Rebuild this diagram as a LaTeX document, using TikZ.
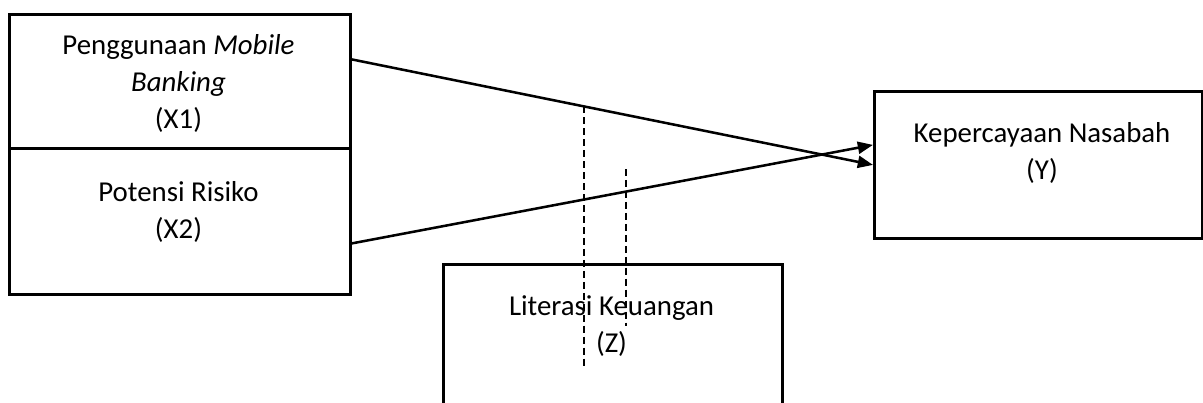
\documentclass[tikz,border=0pt]{standalone}
\usepackage{fontspec}
\setmainfont{Carlito}
\usepackage{tikz}
\usetikzlibrary{calc,arrows.meta,positioning}
\newlength\px
\setlength\px{0.025cm}
\tikzset{
  ar/.style={-{Triangle[length=3.8mm,width=3mm]},line width=1.8pt},
  box/.style={draw,line width=2pt,anchor=north west,inner sep=0pt},
  lbl/.style={align=center,inner sep=0pt,font=\fontsize{20.5pt}{26.5pt}\selectfont},
  dsh/.style={line width=1.5pt,dash pattern=on 5pt off 2.8pt}
}

\begin{document}
\begin{tikzpicture}[x=0.025cm,y=-0.025cm]
\useasboundingbox (0,0) rectangle (1203,402);
% frames
\node[box,minimum width=341\px,minimum height=134\px] (x1) at (8,13) {};
\node[box,minimum width=341\px,minimum height=146\px] (x2) at (8,147) {};
\node[box,minimum width=328\px,minimum height=147\px] (y) at (873,90) {};
\node[box,minimum width=339\px,minimum height=170\px] (z) at (442,263) {};
% texts
\node[lbl] (x1t) at (178.5,83.5) {Penggunaan \textit{Mobile}\\\textit{Banking}\\(X1)};
\node[lbl] (x2t) at (178.5,212) {Potensi Risiko\\(X2)};
\node[lbl] (yt) at (1042,153) {Kepercayaan Nasabah\\(Y)};
\node[lbl] (zt) at (611.5,326) {Literasi Keuangan\\(Z)};
% paths
\draw[ar] ($(x1.east)+(0,-22)$) -- coordinate[pos=0.445] (m1) (y.west);
\draw[ar] ($(x2.east)+(0,22)$) -- ($(y.west)+(0,-20)$);
% moderation
\coordinate (m1b) at (m1 |- 0,367);
\coordinate (m2) at (626,169);
\coordinate (m2b) at (626,326);
\draw[dsh] (m1) -- (m1b);
\draw[dsh] (m2) -- (m2b);
\end{tikzpicture}
\end{document}
